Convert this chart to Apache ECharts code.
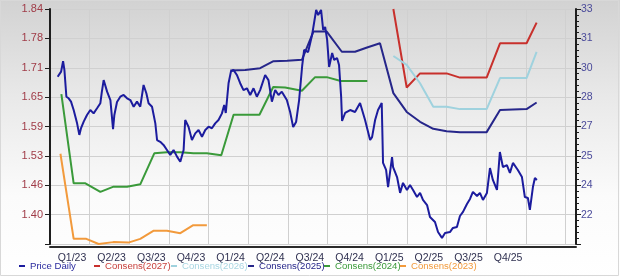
<!DOCTYPE html>
<html>
<head>
<meta charset="utf-8">
<script src="https://cdn.jsdelivr.net/npm/echarts@6/dist/echarts.min.js"></script>
<style>
html,body{margin:0;padding:0;background:#fff;}
#c{width:620px;height:280px;}
</style>
</head>
<body>
<div id="c"></div>
<script>
// x values: months since Jan 1 2023
const quarterLabels = ['Q1/23','Q2/23','Q3/23','Q4/23','Q1/24','Q2/24','Q3/24','Q4/24','Q1/25','Q2/25','Q3/25','Q4/25',''];
const leftTickLabels = ['', '1.40', '1.46', '1.53', '1.59', '1.65', '1.71', '1.78', '1.84'];
const rightTickLabels = ['', '22', '24', '25', '27', '28', '30', '31', '33'];
const legendNames = ['Price Daily', 'Consens(2027)', 'Consens(2026)', 'Consens(2025)', 'Consens(2024)', 'Consens(2023)'];

const priceX = [0.58,0.84,0.99,1.09,1.24,1.41,1.59,1.79,2.05,2.22,2.35,2.55,2.80,3.05,3.30,3.56,3.81,3.92,4.06,4.32,4.57,4.77,4.87,5.07,5.32,5.57,5.83,6.08,6.33,6.58,6.83,7.08,7.29,7.46,7.72,7.97,8.10,8.34,8.59,8.85,9.10,9.35,9.61,9.86,10.11,10.23,10.48,10.74,10.99,11.24,11.50,11.75,12.00,12.25,12.50,12.75,13.01,13.18,13.30,13.51,13.69,13.88,14.14,14.39,14.64,14.90,15.15,15.40,15.65,15.90,16.28,16.53,16.79,17.04,17.29,17.54,17.92,18.17,18.40,18.62,18.85,19.08,19.23,19.53,19.83,20.14,20.29,20.51,20.67,20.82,20.97,21.12,21.35,21.50,21.72,21.87,22.03,22.10,22.33,22.71,23.08,23.46,23.84,24.22,24.37,24.60,24.82,25.10,25.20,25.43,25.58,25.88,25.96,26.26,26.49,26.71,27.01,27.24,27.47,27.77,28.00,28.22,28.53,28.75,29.13,29.36,29.66,29.89,30.26,30.49,30.79,31.02,31.25,31.55,31.78,32.00,32.31,32.53,32.76,33.06,33.29,33.51,33.82,34.04,34.27,34.57,34.80,35.03,35.40,35.71,35.93,36.16,36.31,36.54,36.69,36.84];
const priceY = [29.54,29.80,30.34,29.89,28.52,28.44,28.27,27.84,27.16,26.57,26.92,27.25,27.59,27.84,27.67,27.93,28.19,28.76,29.37,28.78,28.35,26.87,27.59,28.25,28.52,28.61,28.44,28.35,28.01,28.27,28.01,29.12,28.70,28.19,28.01,27.16,26.31,26.22,26.06,25.80,25.55,25.80,25.46,25.20,25.80,27.33,26.99,26.31,26.65,26.82,26.48,26.82,26.99,26.91,27.16,27.33,27.67,28.10,27.69,29.21,29.80,29.89,29.63,29.21,28.86,28.95,28.61,28.95,28.52,28.86,29.63,29.37,28.27,28.86,28.61,28.78,28.35,27.74,26.97,27.23,28.35,30.09,30.91,30.80,31.67,32.95,32.69,32.95,31.93,32.08,31.42,30.04,30.75,30.40,30.50,30.14,28.51,27.28,27.69,27.84,27.74,28.20,27.33,26.31,26.46,27.33,27.84,28.20,25.14,24.78,23.91,25.44,24.93,24.42,23.61,24.12,23.76,24.01,23.76,23.40,23.61,23.25,22.99,22.38,22.12,21.61,21.31,21.56,21.61,21.82,21.87,22.43,22.64,23.04,23.30,23.66,23.45,23.61,23.25,23.61,24.88,24.27,23.76,25.70,24.93,25.03,24.63,25.14,24.78,24.42,23.40,23.35,22.74,23.91,24.37,24.27];

const c2027X = [25.98,26.99,28.00,29.00,30.01,31.02,32.02,33.04,34.05,35.05,36.06,36.82];
const c2027Y = [1.840,1.673,1.703,1.703,1.703,1.694,1.694,1.694,1.767,1.767,1.767,1.811];

const c2026X = [25.98,26.99,28.00,29.00,30.01,31.02,32.02,33.04,34.05,35.05,36.06,36.82];
const c2026Y = [1.740,1.721,1.682,1.632,1.632,1.627,1.627,1.627,1.693,1.693,1.693,1.749];

const c2025X = [13.64,14.77,15.90,16.91,17.94,19.06,19.93,20.94,22.08,23.08,23.99,24.97,25.98,26.99,28.00,29.00,30.01,31.02,32.00,33.04,34.05,35.03,36.06,36.82];
const c2025Y = [1.709,1.710,1.714,1.729,1.730,1.732,1.792,1.792,1.749,1.749,1.758,1.767,1.661,1.621,1.600,1.585,1.580,1.578,1.578,1.578,1.625,1.626,1.627,1.641];

const c2024X = [0.86,1.79,2.68,3.81,4.81,5.83,6.83,7.89,8.85,9.86,10.86,11.87,12.96,13.89,14.90,15.85,16.89,17.79,19.06,20.06,20.94,22.00,22.96,24.01];
const c2024Y = [1.659,1.469,1.469,1.451,1.462,1.462,1.467,1.533,1.535,1.535,1.533,1.533,1.529,1.615,1.615,1.615,1.674,1.673,1.666,1.695,1.695,1.687,1.687,1.687];

const c2023X = [0.79,1.79,2.75,3.68,4.79,5.93,6.83,7.82,8.85,9.86,10.84,11.87];
const c2023Y = [1.532,1.351,1.351,1.340,1.344,1.343,1.351,1.368,1.368,1.363,1.380,1.380];

const zip = (xs, ys) => xs.map((x, i) => [x, ys[i]]);

const seriesColors = ['#1c1c9e', '#c8302c', '#9fd2de', '#26268a', '#3a9a3a', '#f29a3c'];
const legendTextColors = ['#2a2a9e', '#c8403c', '#a8d6e2', '#26268a', '#3a9a3a', '#f29a3c'];
const legendLefts = [19, 94, 171, 248, 324, 400];

const FONT = 'Liberation Sans, Arial, sans-serif';

const chart = echarts.init(document.getElementById('c'), null, {renderer: 'canvas'});

function lineSeries(name, data, color, yAxisIndex, z) {
  return {
    name, type: 'line', data, yAxisIndex, z,
    showSymbol: false, symbol: 'none',
    lineStyle: {color, width: 2},
    itemStyle: {color},
    animation: false
  };
}

const LMIN = 1.34, LSTEP = 0.0625;
const RMIN = 21, RSTEP = 1.5;

chart.setOption({
  animation: false,
  backgroundColor: {
    type: 'linear', x: 0, y: 0, x2: 0, y2: 1,
    colorStops: [
      {offset: 0, color: '#d2d2d2'},
      {offset: 0.35, color: '#e9e9e9'},
      {offset: 0.7, color: '#fbfbfb'},
      {offset: 1, color: '#ffffff'}
    ]
  },
  grid: {left: 50, right: 44, top: 9, bottom: 36, containLabel: false},
  legend: legendNames.map((name, i) => ({
    left: legendLefts[i], top: 261,
    itemWidth: 6, itemHeight: 2, padding: 0,
    icon: 'rect',
    textStyle: {fontFamily: FONT, fontSize: 9.6, color: legendTextColors[i]},
    data: [name]
  })),
  xAxis: {
    type: 'value', min: 0, max: 39.8, interval: 3,
    offset: 3,
    axisLine: {show: true, lineStyle: {color: '#2a2a2a', width: 2}},
    axisTick: {show: false},
    splitLine: {show: true, lineStyle: {color: '#d0d0d0', width: 1}},
    axisLabel: {
      fontFamily: FONT, fontSize: 10.5, color: '#2f3050', margin: 6,
      align: 'center', padding: [0, 0, 0, 44],
      showMaxLabel: false,
      formatter: v => {
        const k = Math.round(v / 3);
        if (Math.abs(v - k * 3) > 0.01) return '';
        return quarterLabels[k] || '';
      }
    }
  },
  yAxis: [
    {
      type: 'value', min: LMIN, max: 1.84, interval: LSTEP, position: 'left',
      axisLine: {show: true, lineStyle: {color: '#1e1e1e', width: 2}},
      axisTick: {show: true, length: 5, lineStyle: {color: '#1e1e1e'}},
      splitLine: {show: true, lineStyle: {color: '#d0d0d0', width: 1}},
      axisLabel: {
        fontFamily: FONT, fontSize: 11, color: '#a03c48', margin: 7,
        formatter: v => leftTickLabels[Math.round((v - LMIN) / LSTEP)] || ''
      }
    },
    {
      type: 'value', min: RMIN, max: 33, interval: RSTEP, position: 'right',
      axisLine: {show: true, lineStyle: {color: '#1e1e1e', width: 2}},
      axisTick: {show: true, length: 5, lineStyle: {color: '#1e1e1e'}},
      minorTick: {show: true, splitNumber: 5, length: 3, lineStyle: {color: '#1e1e1e'}},
      splitLine: {show: false},
      axisLabel: {
        fontFamily: FONT, fontSize: 10.5, color: '#4a4a9a', margin: 5,
        formatter: v => rightTickLabels[Math.round((v - RMIN) / RSTEP)] || ''
      }
    }
  ],
  series: [
    lineSeries(legendNames[0], zip(priceX, priceY), seriesColors[0], 1, 6),
    lineSeries(legendNames[1], zip(c2027X, c2027Y), seriesColors[1], 0, 3),
    lineSeries(legendNames[2], zip(c2026X, c2026Y), seriesColors[2], 0, 3),
    lineSeries(legendNames[3], zip(c2025X, c2025Y), seriesColors[3], 0, 3),
    lineSeries(legendNames[4], zip(c2024X, c2024Y), seriesColors[4], 0, 3),
    lineSeries(legendNames[5], zip(c2023X, c2023Y), seriesColors[5], 0, 3)
  ],
  graphic: [
    {type: 'rect', shape: {x: 0.5, y: 0.5, width: 618, height: 275}, style: {fill: 'none', stroke: '#d8d8d8', lineWidth: 1}, silent: true}
  ]
});
</script>
</body>
</html>
